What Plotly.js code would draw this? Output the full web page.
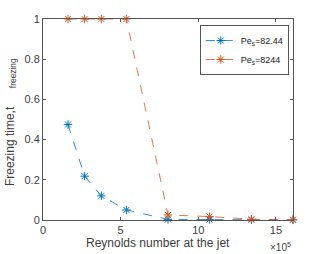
<!DOCTYPE html>
<html><head><meta charset="utf-8">
<script src="https://cdn.plot.ly/plotly-3.0.1.min.js"></script>
<style>html,body{margin:0;padding:0;background:#fff}#c{width:324px;height:254px}</style>
</head><body><div id="c"></div>
<script>
const reynolds = [161000, 268000, 376000, 537000, 805000, 1073000, 1342000, 1610000];
const pe82 = [0.475, 0.218, 0.12, 0.05, 0.003, 0.002, 0.001, 0.0005];
const pe8244 = [1, 1, 1, 1, 0.025, 0.017, 0.004, 0.001];
const xTickVals = [0, 500000, 1000000, 1500000];
const xTickText = ['0', '5', '10', '15'];
const yTickVals = [0, 0.2, 0.4, 0.6, 0.8, 1];
const names = ['Pe<sub>s</sub>=82.44', 'Pe<sub>s</sub>=8244'];

const font = 'Liberation Sans, Arial, sans-serif';
const txt = '#404040';
function tr(y, name, color){
  return {x: reynolds, y: y, name: name, type:'scatter', mode:'lines+markers', cliponaxis:false,
    line:{color:color, width:0.8, dash:'dash'},
    marker:{symbol:'asterisk-open', size:7, color:color, line:{color:color, width:1}}};
}
const data = [tr(pe82, names[0], '#0072BD'), tr(pe8244, names[1], '#D95319')];
const axis = {showgrid:false, zeroline:false, showline:true, linecolor:'#555', linewidth:1, mirror:'ticks',
  ticks:'inside', ticklen:3, tickcolor:'#555', tickfont:{family:font, size:11, color:txt}};
const layout = {
  width:324, height:254, margin:{l:43, r:31, t:19, b:34},
  paper_bgcolor:'#fff', plot_bgcolor:'#fff', showlegend:true,
  xaxis: Object.assign({}, axis, {range:[0, 1610000], tickvals:xTickVals, ticktext:xTickText}),
  yaxis: Object.assign({}, axis, {range:[0, 1], tickvals:yTickVals}),
  legend:{x:0.983, y:0.97, xanchor:'right', yanchor:'top', bgcolor:'#fff', bordercolor:'#555', borderwidth:1,
    font:{family:font, size:9, color:'#222'}, tracegroupgap:0, itemwidth:30},
  annotations:[
    {xref:'paper', yref:'paper', x:0.46, y:-0.114, xanchor:'center', yanchor:'middle', showarrow:false,
     text:'Reynolds number at the jet', font:{family:font, size:12, color:txt}},
    {xref:'paper', yref:'paper', x:-0.128, y:0.487, xanchor:'center', yanchor:'middle', showarrow:false, textangle:-90,
     text:'Freezing time,t<sub>        freezing</sub>', font:{family:font, size:12, color:txt}},
    {xref:'paper', yref:'paper', x:1.0, y:-0.097, xanchor:'right', yanchor:'top', showarrow:false,
     text:'×10<sup>5</sup>', font:{family:font, size:10, color:txt}}
  ]
};
Plotly.newPlot('c', data, layout, {staticPlot:true});
</script></body></html>
